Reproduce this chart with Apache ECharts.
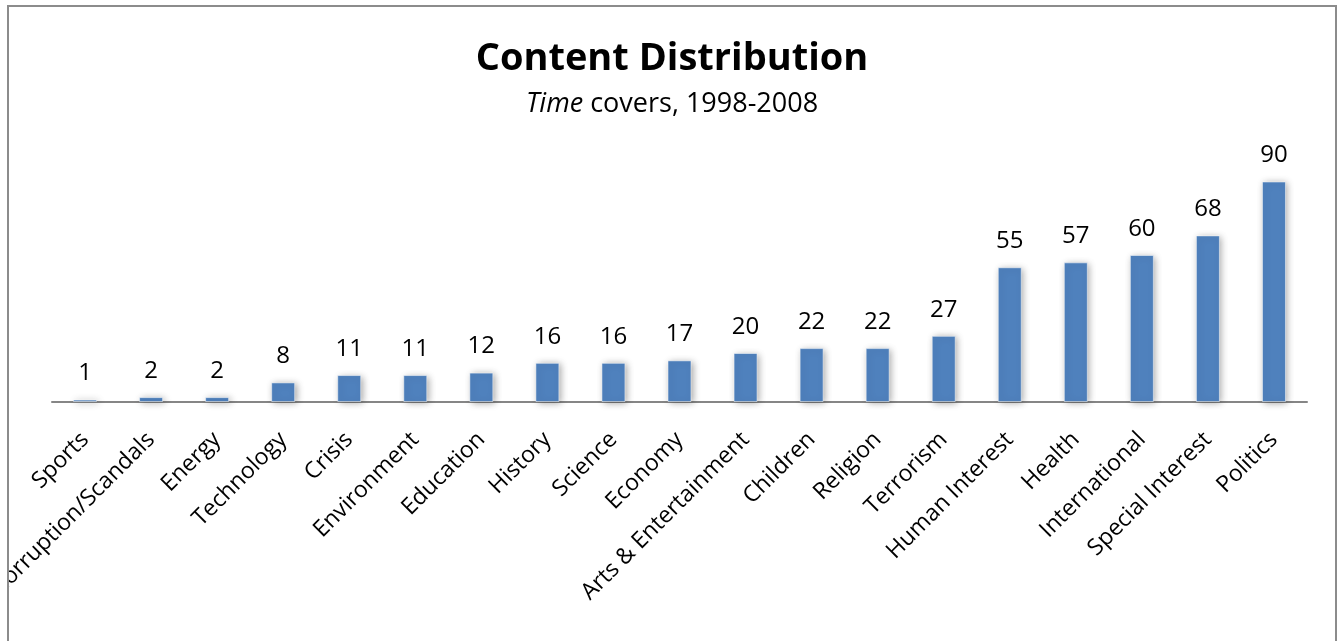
<!DOCTYPE html>
<html>
<head>
<meta charset="utf-8">
<script src="https://cdn.jsdelivr.net/npm/echarts@6/dist/echarts.min.js"></script>
<style>
  html, body { margin: 0; padding: 0; background: #fff; overflow: hidden; width: 1343px; height: 641px; }
  #frame {
    position: absolute; left: 7px; top: 5px;
    width: 1326px; height: 650px;
    border: 2px solid #8c8c8c; border-bottom: none;
    background: #fff;
  }
  #chart { width: 1326px; height: 640px; }
</style>
</head>
<body>
<div id="frame"><div id="chart"></div></div>
<script>
// Time magazine cover topics, 1998-2008
const categories = [
  'Sports', 'Corruption/Scandals', 'Energy', 'Technology', 'Crisis',
  'Environment', 'Education', 'History', 'Science', 'Economy',
  'Arts & Entertainment', 'Children', 'Religion', 'Terrorism',
  'Human Interest', 'Health', 'International', 'Special Interest', 'Politics'
];
const coverCounts = [1, 2, 2, 8, 11, 11, 12, 16, 16, 17, 20, 22, 22, 27, 55, 57, 60, 68, 90];

const titleText = 'Content Distribution';
const subtitleItalic = 'Time';
const subtitleRest = ' covers, 1998-2008';

const FONT = '"Open Sans", "Liberation Sans", sans-serif';

const chart = echarts.init(document.getElementById('chart'), null, { renderer: 'canvas' });

chart.setOption({
  animation: false,
  backgroundColor: '#fff',
  title: {
    text: titleText,
    subtext: '{i|' + subtitleItalic + '}{r|' + subtitleRest + '}',
    left: 'center',
    top: 28,
    itemGap: 13,
    textStyle: { fontFamily: FONT, fontWeight: 'bold', fontSize: 38, color: '#000' },
    subtextStyle: {
      fontFamily: FONT, fontSize: 27, color: '#000',
      rich: {
        i: { fontFamily: FONT, fontSize: 27, fontStyle: 'italic', color: '#000' },
        r: { fontFamily: FONT, fontSize: 27, color: '#000' }
      }
    }
  },
  // fixed plot box; long rotated labels may run off the left edge
  grid: { left: 43, top: 150, width: 1255, height: 245, containLabel: false, outerBoundsMode: 'none' },
  xAxis: {
    type: 'category',
    data: categories,
    axisLine: { show: true, lineStyle: { color: '#868686', width: 2 } },
    axisTick: { show: false },
    axisLabel: {
      interval: 0,
      rotate: 45,
      margin: 34,
      fontFamily: FONT,
      fontSize: 23,
      color: '#000'
    }
  },
  yAxis: {
    type: 'value',
    min: 0,
    max: 100,
    show: false,
    splitLine: { show: false }
  },
  series: [{
    type: 'bar',
    data: coverCounts,
    barWidth: 24,
    itemStyle: {
      color: '#4F81BD',
      borderColor: 'rgba(255,255,255,0.5)',
      borderWidth: 1,
      shadowColor: 'rgba(0,0,0,0.35)',
      shadowBlur: 7,
      shadowOffsetX: 2,
      shadowOffsetY: 1
    },
    label: {
      show: true,
      position: 'top',
      distance: 14,
      fontFamily: FONT,
      fontSize: 24,
      color: '#000'
    }
  }]
});
</script>
</body>
</html>
